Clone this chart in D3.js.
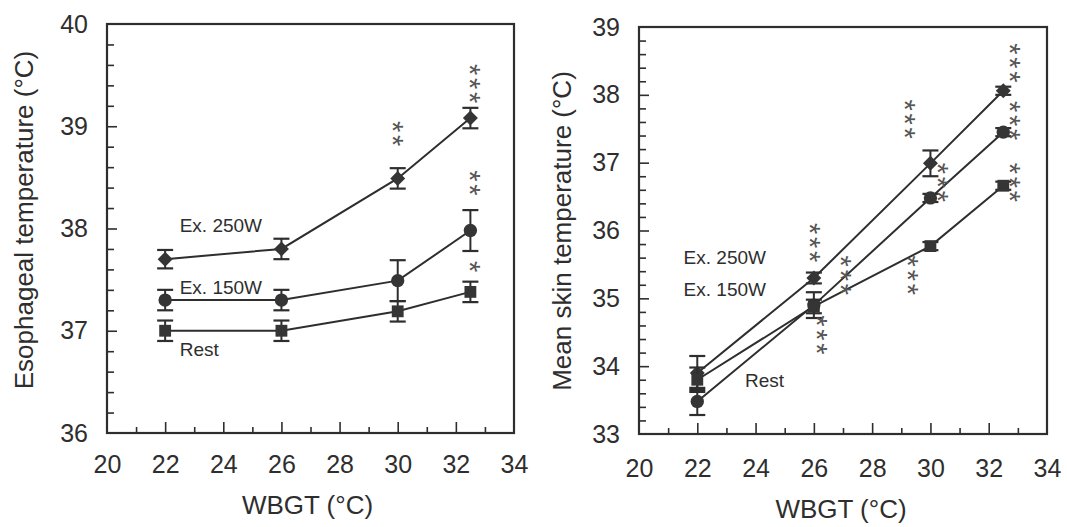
<!DOCTYPE html>
<html>
<head>
<meta charset="utf-8">
<script src="https://cdn.jsdelivr.net/npm/d3@7"></script>
<style>
  html, body { margin: 0; padding: 0; background: #ffffff; }
  svg { display: block; }
</style>
</head>
<body>
<svg id="chart" width="1067" height="527"></svg>
<script>
// ---------------- DATA ----------------
const wbgt = [22, 26, 30, 32.5];
const xMajorTicks = [20, 22, 24, 26, 28, 30, 32, 34];
const seriesNames = ["Ex. 250W", "Ex. 150W", "Rest"];

// Left panel: esophageal temperature
const esoTicks = [36, 37, 38, 39, 40];
const esoEx250 = [37.7, 37.8, 38.49, 39.08];
const esoEx250Err = [0.09, 0.1, 0.1, 0.1];
const esoEx150 = [37.3, 37.3, 37.49, 37.98];
const esoEx150Err = [0.1, 0.1, 0.2, 0.2];
const esoRest = [37.0, 37.0, 37.19, 37.38];
const esoRestErr = [0.1, 0.1, 0.1, 0.1];
const esoStarX = [30.05, 32.7, 32.7, 32.7];
const esoStarY = [38.9, 39.39, 38.42, 37.6];
const esoStarN = [2, 3, 2, 1];
const esoLabelX = [22.5, 22.5, 22.5];
const esoLabelY = [37.97, 37.36, 36.75];

// Right panel: mean skin temperature
const skinTicks = [33, 34, 35, 36, 37, 38, 39];
const skinEx250 = [33.9, 35.3, 36.99, 38.06];
const skinEx250Err = [0.25, 0.08, 0.19, 0.06];
const skinEx150 = [33.48, 34.9, 36.48, 37.45];
const skinEx150Err = [0.2, 0.19, 0.06, 0.06];
const skinRest = [33.8, 34.88, 35.77, 36.66];
const skinRestErr = [0.18, 0.1, 0.06, 0.06];
const skinStarX = [32.97, 32.97, 32.97, 29.35, 30.5, 26.1, 27.16, 29.45, 26.34];
const skinStarY = [38.43, 37.58, 36.67, 37.6, 36.67, 35.78, 35.3, 35.3, 34.42];
const skinStarN = [3, 3, 3, 3, 3, 3, 3, 3, 3];
const skinLabelX = [21.53, 21.53, 23.64];
const skinLabelY = [35.5, 35.03, 33.69];

// ---------------- DRAW ----------------
const svg = d3.select("#chart");
const INK = "#2e2e2e";
const FONT = "'Liberation Sans', Arial, Helvetica, sans-serif";

const markerShapes = ["diamond", "circle", "square"];

function drawPanel(cfg) {
  const g = svg.append("g");
  const x = d3.scaleLinear().domain([20, 34]).range([cfg.left, cfg.right]);
  const y = d3.scaleLinear().domain(cfg.yDomain).range([cfg.bottom, cfg.top]);

  // minor x ticks
  const xMinor = d3.range(21, 34, 2);
  g.append("g").attr("transform", `translate(0,${cfg.bottom})`)
    .call(d3.axisBottom(x).tickValues(xMinor).tickSize(-6).tickFormat(""))
    .call(a => a.select(".domain").remove())
    .attr("color", INK)
    .selectAll("line").attr("stroke-width", 1.6);
  // major x ticks with labels
  const xa = g.append("g").attr("transform", `translate(0,${cfg.bottom})`)
    .call(d3.axisBottom(x).tickValues(xMajorTicks).tickSize(-11).tickPadding(cfg.xPad).tickFormat(d3.format("d")))
    .call(a => a.select(".domain").remove())
    .attr("color", INK);
  xa.selectAll("line").attr("stroke-width", 1.6)
    .filter(d => d === 20 || d === 34).remove();
  xa.selectAll("text").attr("font-size", 25).attr("font-family", FONT).attr("fill", INK);

  // minor y ticks
  const yMinor = d3.range(cfg.yDomain[0], cfg.yDomain[1] + 0.001, 0.2)
    .filter(v => Math.abs(v - Math.round(v)) > 0.01);
  g.append("g").attr("transform", `translate(${cfg.left},0)`)
    .call(d3.axisLeft(y).tickValues(yMinor).tickSize(-7).tickFormat(""))
    .call(a => a.select(".domain").remove())
    .attr("color", INK)
    .selectAll("line").attr("stroke-width", 1.6);
  const ya = g.append("g").attr("transform", `translate(${cfg.left},0)`)
    .call(d3.axisLeft(y).tickValues(cfg.yTicks).tickSize(-10).tickPadding(19).tickFormat(d3.format("d")))
    .call(a => a.select(".domain").remove())
    .attr("color", INK);
  ya.selectAll("line").attr("stroke-width", 1.6)
    .filter(d => d === cfg.yDomain[0] || d === cfg.yDomain[1]).remove();
  ya.selectAll("text").attr("font-size", 25).attr("font-family", FONT).attr("fill", INK);

  // frame
  g.append("rect")
    .attr("x", cfg.left).attr("y", cfg.top)
    .attr("width", cfg.right - cfg.left).attr("height", cfg.bottom - cfg.top)
    .attr("fill", "none").attr("stroke", INK).attr("stroke-width", 2.2);

  // series
  cfg.series.forEach((s, si) => {
    const pts = wbgt.map((xv, i) => ({ x: xv, y: s.values[i], e: s.err[i] }));
    g.append("path")
      .datum(pts)
      .attr("fill", "none").attr("stroke", INK).attr("stroke-width", 2)
      .attr("d", d3.line().x(d => x(d.x)).y(d => y(d.y)));
    const eb = g.append("g").selectAll("g").data(pts).join("g");
    eb.append("line")
      .attr("x1", d => x(d.x)).attr("x2", d => x(d.x))
      .attr("y1", d => y(d.y - d.e)).attr("y2", d => y(d.y + d.e))
      .attr("stroke", INK).attr("stroke-width", 2);
    [1, -1].forEach(sign => {
      eb.append("line")
        .attr("x1", d => x(d.x) - 8).attr("x2", d => x(d.x) + 8)
        .attr("y1", d => y(d.y + sign * d.e)).attr("y2", d => y(d.y + sign * d.e))
        .attr("stroke", INK).attr("stroke-width", 2.2);
    });
    const shape = markerShapes[si];
    let sym, rot = 0;
    if (shape === "diamond") { sym = d3.symbol(d3.symbolSquare, 112); rot = 45; }
    else if (shape === "circle") { sym = d3.symbol(d3.symbolCircle, 140); }
    else { sym = d3.symbol(d3.symbolSquare, 140); }
    g.append("g").selectAll("path").data(pts).join("path")
      .attr("d", sym)
      .attr("transform", d => `translate(${x(d.x)},${y(d.y)}) rotate(${rot})`)
      .attr("fill", "#353535");
  });

  // series labels
  seriesNames.forEach((name, i) => {
    g.append("text")
      .attr("x", x(cfg.labelX[i])).attr("y", y(cfg.labelY[i]))
      .attr("font-family", FONT).attr("font-size", 19).attr("fill", INK)
      .text(name);
  });

  // significance asterisks: each stack is one text run turned to read downward
  const fs = 29;
  const pitch = 14;
  const advance = 0.389 * fs;
  cfg.starX.forEach((sx, i) => {
    const n = cfg.starN[i];
    g.append("text")
      .attr("transform", `translate(${x(sx) - 0.57 * fs},${y(cfg.starY[i]) - (pitch - advance) / 2}) rotate(90)`)
      .attr("text-anchor", "middle")
      .attr("letter-spacing", pitch - advance)
      .attr("font-family", FONT).attr("font-size", fs).attr("fill", "#555")
      .text("*".repeat(n));
  });

  // axis titles
  g.append("text")
    .attr("x", (cfg.left + cfg.right) / 2 + cfg.xTitleDx).attr("y", cfg.xTitleY)
    .attr("text-anchor", "middle")
    .attr("font-family", FONT).attr("font-size", 26).attr("fill", INK)
    .text("WBGT (°C)");
  g.append("text")
    .attr("transform", `translate(${cfg.yTitleX},${cfg.yTitleY}) rotate(-90)`)
    .attr("text-anchor", "middle").attr("dominant-baseline", "central")
    .attr("font-family", FONT).attr("font-size", 26).attr("fill", INK)
    .text(cfg.yTitle);
}

drawPanel({
  left: 107, right: 514, top: 24, bottom: 433,
  yDomain: [36, 40], yTicks: esoTicks,
  series: [
    { values: esoEx250, err: esoEx250Err },
    { values: esoEx150, err: esoEx150Err },
    { values: esoRest, err: esoRestErr }
  ],
  labelX: esoLabelX, labelY: esoLabelY,
  starX: esoStarX, starY: esoStarY, starN: esoStarN,
  xPad: 22, xTitleY: 514, xTitleDx: -3,
  yTitle: "Esophageal temperature (°C)", yTitleX: 24, yTitleY: 220
});

drawPanel({
  left: 639, right: 1047, top: 27, bottom: 434,
  yDomain: [33, 39], yTicks: skinTicks,
  series: [
    { values: skinEx250, err: skinEx250Err },
    { values: skinEx150, err: skinEx150Err },
    { values: skinRest, err: skinRestErr }
  ],
  labelX: skinLabelX, labelY: skinLabelY,
  starX: skinStarX, starY: skinStarY, starN: skinStarN,
  xPad: 25, xTitleY: 518, xTitleDx: -2,
  yTitle: "Mean skin temperature (°C)", yTitleX: 562, yTitleY: 231
});
</script>
</body>
</html>
